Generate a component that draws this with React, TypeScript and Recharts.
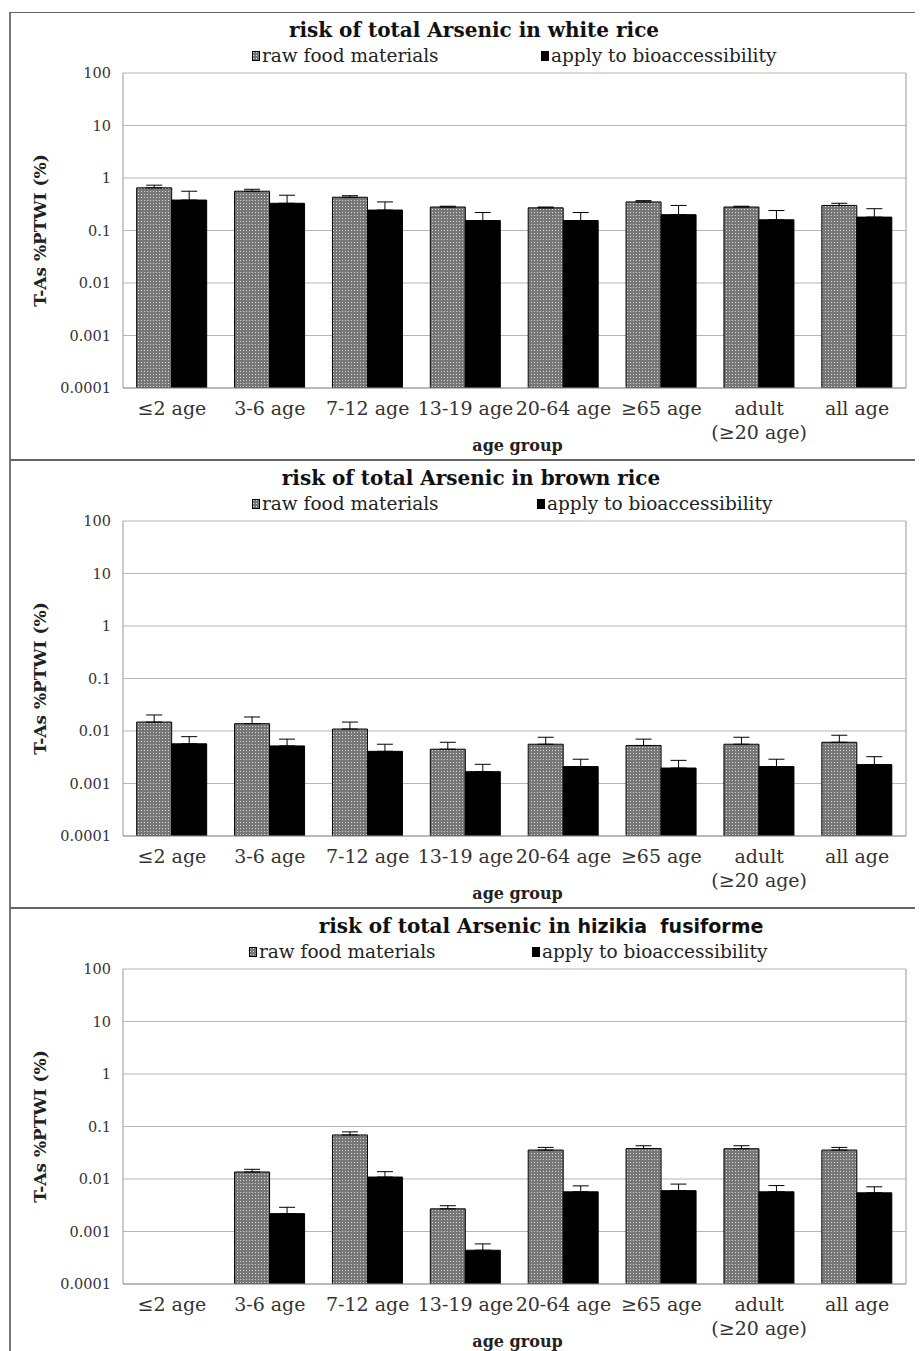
import React from 'react';
import { BarChart, Bar, XAxis, YAxis, CartesianGrid, ErrorBar } from 'recharts';

const categories = ['≤2 age', '3-6 age', '7-12 age', '13-19 age', '20-64 age', '≥65 age', 'adult\n(≥20 age)', 'all age'];
const yTicks = [0.0001, 0.001, 0.01, 0.1, 1, 10, 100];
const legendLabels = ['raw food materials', 'apply to bioaccessibility'];

// white rice
const whiteRaw = [0.65, 0.56, 0.43, 0.28, 0.27, 0.35, 0.28, 0.30];
const whiteRawErr = [0.08, 0.05, 0.03, 0.01, 0.01, 0.02, 0.01, 0.03];
const whiteBio = [0.38, 0.33, 0.245, 0.155, 0.155, 0.20, 0.16, 0.18];
const whiteBioErr = [0.18, 0.14, 0.105, 0.065, 0.065, 0.10, 0.08, 0.08];

// brown rice
const brownRaw = [0.0148, 0.0138, 0.0109, 0.0045, 0.0056, 0.0053, 0.0056, 0.0061];
const brownRawErr = [0.0054, 0.0047, 0.0039, 0.0016, 0.0020, 0.0017, 0.0020, 0.0022];
const brownBio = [0.0057, 0.0052, 0.0041, 0.00168, 0.0021, 0.00197, 0.0021, 0.00229];
const brownBioErr = [0.0021, 0.0018, 0.0015, 0.00064, 0.0008, 0.00079, 0.0008, 0.00095];

// hizikia fusiforme
const hizRaw = [null, 0.0136, 0.069, 0.0027, 0.0356, 0.038, 0.0377, 0.0356];
const hizRawErr = [null, 0.0017, 0.010, 0.0004, 0.0044, 0.005, 0.0053, 0.0044];
const hizBio = [null, 0.00219, 0.0109, 0.00044, 0.0057, 0.0060, 0.0057, 0.00546];
const hizBioErr = [null, 0.0007, 0.0029, 0.00014, 0.0017, 0.0020, 0.0018, 0.00164];

const SERIF = "'DejaVu Serif', 'Liberation Serif', serif";

function buildRows(raw: (number | null)[], rawErr: (number | null)[], bio: (number | null)[], bioErr: (number | null)[]) {
  return categories.map((c, i) => ({
    age: c,
    raw: raw[i],
    rawErr: rawErr[i] == null ? null : [0, rawErr[i]],
    bio: bio[i],
    bioErr: bioErr[i] == null ? null : [0, bioErr[i]],
  }));
}

const CatTick = (props: any) => {
  const { x, y, payload } = props;
  const lines = String(payload.value).split('\n');
  return (
    <text x={x} y={y} textAnchor="middle" fontFamily={SERIF} fontSize={19} fill="#333">
      {lines.map((l, i) => (
        <tspan key={i} x={x} dy={i === 0 ? 27 : 24}>{l}</tspan>
      ))}
    </text>
  );
};

type PanelProps = {
  title: React.ReactNode;
  titleShift: number;
  rows: any[];
  patternId: string;
  legendLeft: [number, number];
};

const W = 912;
const H = 446;

function Panel({ title, titleShift, rows, patternId, legendLeft }: PanelProps) {
  return (
    <div style={{ position: 'relative', width: W, height: H, borderTop: '1px solid #666', borderBottom: '1px solid #666', borderLeft: '2px solid #777', borderRight: '1px solid #bbb', background: '#fff' }}>
      <div style={{ position: 'absolute', top: 5, left: titleShift, width: W, textAlign: 'center', fontFamily: SERIF, fontWeight: 'bold', fontSize: 20, color: '#111', lineHeight: '24px' }}>
        {title}
      </div>
      {legendLabels.map((lab, i) => (
        <div key={lab} style={{ position: 'absolute', top: 32, left: legendLeft[i], display: 'flex', alignItems: 'center', fontFamily: SERIF, fontSize: 18.5, color: '#222', lineHeight: '22px', whiteSpace: 'nowrap' }}>
          <svg width={8} height={10} style={{ marginRight: 2 }}>
            <rect x={0.5} y={0.5} width={7} height={9} fill={i === 0 ? `url(#${patternId})` : '#000'} stroke="#000" />
          </svg>
          {lab}
        </div>
      ))}
      <BarChart width={W} height={H} data={rows} margin={{ top: 60, right: 16, bottom: 0, left: 0 }} barCategoryGap="14%" barGap={0}>
        <defs>
          <pattern id={patternId} width={3} height={3} patternUnits="userSpaceOnUse">
            <rect width={3} height={3} fill="#777" />
            <rect x={1} y={1} width={1} height={1} fill="#d8d8d8" />
          </pattern>
        </defs>
        <CartesianGrid yAxisId="left" horizontal vertical={false} stroke="#b5b5b5" />
        <XAxis
          dataKey="age"
          height={71}
          interval={0}
          tick={<CatTick />}
          tickLine={false}
          tickSize={0}
          tickMargin={0}
          axisLine={{ stroke: '#999' }}
          label={{ value: 'age group', position: 'insideBottom', offset: 8, dx: 3, style: { fontFamily: SERIF, fontWeight: 'bold', fontSize: 16, fill: '#222' } }}
        />
        <YAxis
          yAxisId="left"
          type="number"
          scale="log"
          domain={[0.0001, 100]}
          ticks={yTicks}
          allowDataOverflow
          width={112}
          tickLine={false}
          tickSize={0}
          tickMargin={12}
          axisLine={{ stroke: '#999' }}
          tick={{ fontFamily: SERIF, fontSize: 14.5, fill: '#333' }}
          tickFormatter={(v: number) => String(v)}
          label={{ value: 'T-As %PTWI (%)', angle: -90, position: 'insideLeft', offset: 29, style: { textAnchor: 'middle', fontFamily: SERIF, fontWeight: 'bold', fontSize: 17, fill: '#222' } }}
        />
        <YAxis yAxisId="right" orientation="right" width={1} tick={false} tickLine={false} axisLine={{ stroke: '#999' }} />
        <Bar yAxisId="left" dataKey="raw" fill={`url(#${patternId})`} stroke="#000" strokeWidth={1} isAnimationActive={false}>
          <ErrorBar dataKey="rawErr" width={8} stroke="#000" strokeWidth={1} direction="y" isAnimationActive={false} />
        </Bar>
        <Bar yAxisId="left" dataKey="bio" fill="#000" stroke="#000" strokeWidth={1} isAnimationActive={false}>
          <ErrorBar dataKey="bioErr" width={8} stroke="#000" strokeWidth={1} direction="y" isAnimationActive={false} />
        </Bar>
      </BarChart>
    </div>
  );
}

export default function App() {
  return (
    <div style={{ margin: '4px 0 0 1px', width: W + 3 }}>
      <Panel
        title="risk of total Arsenic in white rice"
        titleShift={7}
        rows={buildRows(whiteRaw, whiteRawErr, whiteBio, whiteBioErr)}
        patternId="dotsWhite"
        legendLeft={[241, 530]}
      />
      <Panel
        title="risk of total Arsenic in brown rice"
        titleShift={4}
        rows={buildRows(brownRaw, brownRawErr, brownBio, brownBioErr)}
        patternId="dotsBrown"
        legendLeft={[241, 526]}
      />
      <Panel
        title={<span>risk of total Arsenic in <span style={{ fontFamily: "'DejaVu Sans', sans-serif", fontSize: 19 }}>hizikia&nbsp; fusiforme</span></span>}
        titleShift={74}
        rows={buildRows(hizRaw, hizRawErr, hizBio, hizBioErr)}
        patternId="dotsHiz"
        legendLeft={[238, 521]}
      />
    </div>
  );
}
